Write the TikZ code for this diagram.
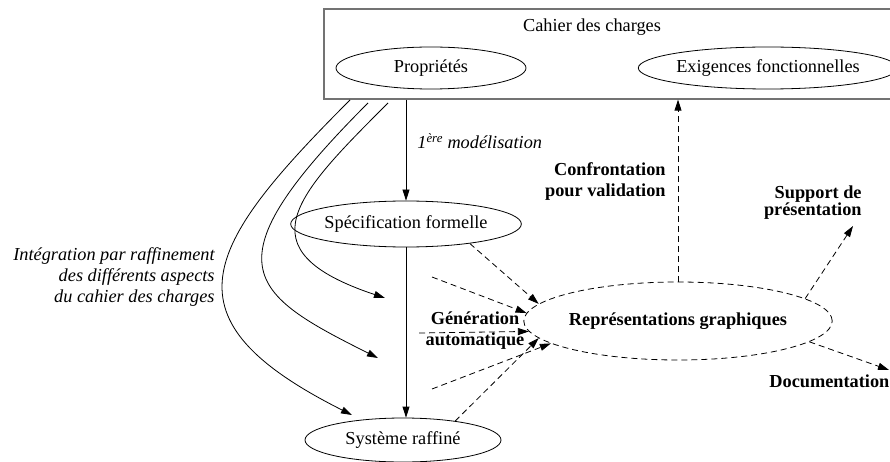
\documentclass[tikz,border=0pt]{standalone}
\usepackage{fontspec}
\setmainfont{Liberation Serif}
\usetikzlibrary{shapes.geometric,arrows.meta}
\begin{document}
\begin{tikzpicture}[x=1pt,y=-1pt,
  font=\fontsize{18.3}{21}\selectfont,
  line width=0.8pt,
  tip/.style={-{Triangle[length=11pt,width=7pt]}},
  dsh/.style={dash pattern=on 6pt off 4pt},
  ell/.style={ellipse,draw,inner sep=0pt},
  lbl/.style={inner sep=0pt},
  bl/.style={lbl,font=\fontsize{18.3}{21}\selectfont\bfseries,align=right}]
\useasboundingbox (0,0) rectangle (890,462);
\clip (0,0) rectangle (890,462);
% top box
\node[draw=black!55,line width=1.3pt,minimum width=580pt,minimum height=90pt,inner sep=0pt] (cdc) at (614,54) {};
\node[lbl] (cdct) at (592,27) {Cahier des charges};
\node[ell,minimum width=190pt,minimum height=42pt] (prop) at (431,68) {Propriétés};
\node[ell,minimum width=238pt,minimum height=42pt] (exig) at (768,68) {Exigences fonctionnelles};
% main nodes
\node[ell,minimum width=188pt,minimum height=46pt] (spec) at (406,224) {Spécification formelle};
\node[ell,minimum width=196pt,minimum height=44pt] (sys) at (403,440) {Système raffiné};
\node[ell,dsh,minimum width=238pt,minimum height=78pt,font=\fontsize{18.3}{21}\selectfont\bfseries] (repr) at (678,321) {Représentations graphiques};
% labels
\node[lbl,anchor=base west] (mod) at (417,149) {\textit{1\textsuperscript{ère} modélisation}};
\node[lbl,anchor=east,align=right,font=\fontsize{18.3}{21}\selectfont\itshape] (integ) at (215,277) {Intégration par raffinement\\des différents aspects\\du cahier des charges};
\node[bl,anchor=east] (conf) at (666,182) {Confrontation\\pour validation};
\node[bl,anchor=east,font=\fontsize{18.3}{17}\selectfont\bfseries] (supp) at (862,203) {Support de\\présentation};
\node[bl,anchor=west] (doc) at (769,381) {Documentation};
\node[bl,align=center] (gen) at (475,331) {Génération\\automatique};
% free ends
\coordinate (supTip) at (853,226);
\coordinate (docTip) at (889,370);
\coordinate (b0) at (432,277);
\coordinate (c0) at (419,333);
\coordinate (d0) at (432,389);
\coordinate (s1) at (388,103);
\coordinate (s2) at (368,103);
\coordinate (s3) at (350,100);
\coordinate (t1) at (385,298);
\coordinate (t2) at (378,358);
\coordinate (t3) at (352,415);
% solid arrows
\draw[tip] (cdc.south -| spec.north) -- (spec.north);
\draw[tip] (spec.south) -- (sys.north -| spec.south);
\draw[tip] (s1) .. controls (296,195) and (241,250) .. (t1);
\draw[tip] (s2) .. controls (206,265) and (248,293) .. (t2);
\draw[tip] (s3) .. controls (202,248) and (161,319) .. (t3);
% dashed arrows
\draw[tip,dsh] (repr.north) -- (cdc.south -| repr.north);
\draw[tip,dsh] (repr.10) -- (supTip);
\draw[tip,dsh] (repr.-9) -- (docTip);
\draw[tip,dsh] (spec.-17) -- (repr.173);
\draw[tip,dsh] (b0) -- (repr.177);
\draw[tip,dsh] (c0) -- (repr.184);
\draw[tip,dsh] (d0) -- (repr.190);
\draw[tip,dsh] (sys.20) -- (repr.187);
\end{tikzpicture}
\end{document}
